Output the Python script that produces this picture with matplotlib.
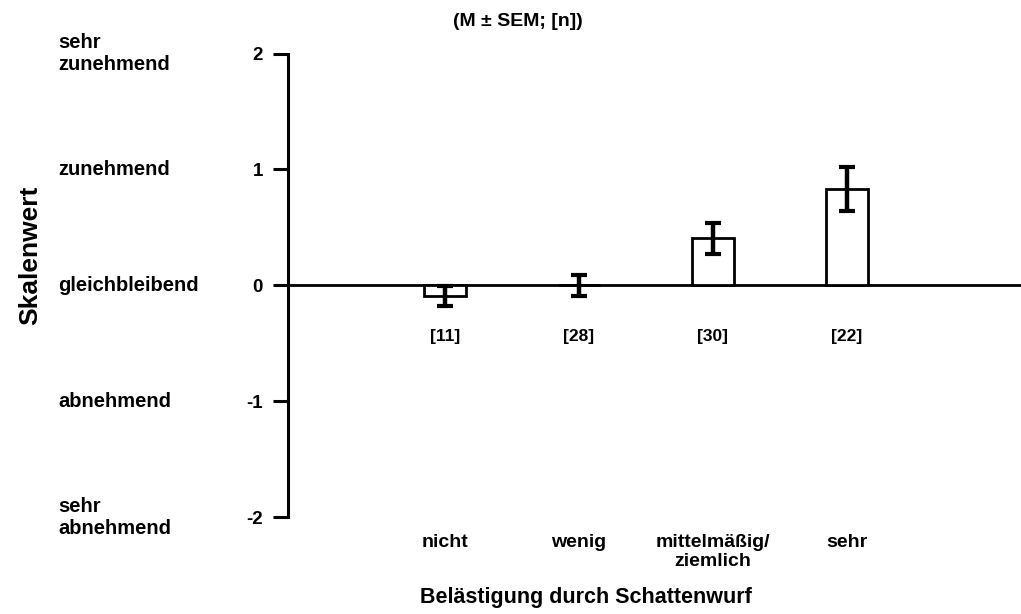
import matplotlib.pyplot as plt
from matplotlib import transforms

categories = ['nicht', 'wenig', 'mittelmäßig/\nziemlich', 'sehr']
means = [-0.09, 0.0, 0.405, 0.83]
sems = [0.085, 0.09, 0.135, 0.19]
counts = [11, 28, 30, 22]
scale_ticks = [2, 1, 0, -1, -2]
scale_labels = ['sehr\nzunehmend', 'zunehmend', 'gleichbleibend', 'abnehmend', 'sehr\nabnehmend']

plt.rcParams['font.family'] = ['Liberation Sans', 'DejaVu Sans']
plt.rcParams['font.weight'] = 'bold'

fig = plt.figure(figsize=(10.21, 6.14), dpi=100)
ax = fig.add_axes([288 / 1021, 97 / 614, 1 - 288 / 1021, (517 - 53.5) / 614])

x = list(range(len(categories)))
ax.bar(x, means, width=0.31, color='white', edgecolor='black', linewidth=2, zorder=2)
ax.errorbar(x, means, yerr=sems, fmt='none', ecolor='black', elinewidth=3.2,
            capsize=5.6, capthick=3, zorder=3)
ax.axhline(0, color='black', linewidth=2, zorder=1)

ax.set_xlim(-1.17, 4.30)
ax.set_ylim(-2, 2)
for side in ['top', 'right', 'bottom']:
    ax.spines[side].set_visible(False)
ax.spines['left'].set_linewidth(2.2)

ax.set_yticks(scale_ticks)
ax.set_yticklabels([str(t) for t in scale_ticks], fontsize=13.5, fontweight='bold')
ax.tick_params(axis='y', length=11, width=2.2, pad=7)
ax.set_xticks(x)
ax.set_xticklabels(categories, fontsize=14, fontweight='bold', linespacing=1.2)
ax.tick_params(axis='x', length=0, pad=12)

for xi, n in zip(x, counts):
    ax.text(xi, -0.44, f'[{n}]', ha='center', va='center', fontsize=12.5, fontweight='bold')

trans = transforms.blended_transform_factory(fig.transFigure, ax.transData)
for t, lab in zip(scale_ticks, scale_labels):
    ax.text(58 / 1021, t, lab, transform=trans, ha='left', va='center',
            fontsize=14.5, fontweight='bold', linespacing=1.2)

fig.text(30 / 1021, 1 - 255 / 614, 'Skalenwert', rotation=90, ha='center', va='center',
         fontsize=19, fontweight='bold')
fig.text(586 / 1021, 1 - 598 / 614, 'Belästigung durch Schattenwurf', ha='center', va='center',
         fontsize=15.5, fontweight='bold')
fig.text(518 / 1021, 1 - 21 / 614, '(M ± SEM; [n])', ha='center', va='center',
         fontsize=14, fontweight='bold')

fig.savefig('out.png', dpi=100)
